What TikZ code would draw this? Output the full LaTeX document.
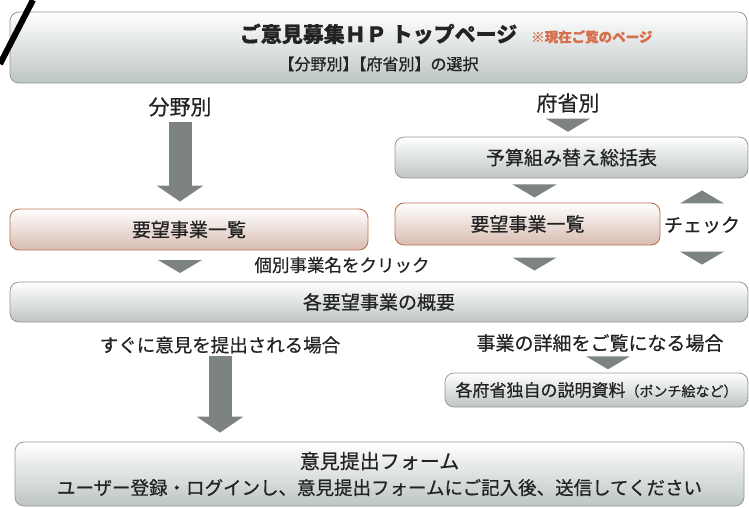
\documentclass[tikz,border=0pt]{standalone}
\usepackage{fontspec}
\setmainfont{Noto Sans CJK JP}[FakeBold=0.6]
\usetikzlibrary{positioning,shapes.geometric,arrows.meta}
\definecolor{arrowgray}{RGB}{125,130,130}
\definecolor{boxline}{RGB}{150,152,152}
\definecolor{boxbot}{RGB}{190,197,197}
\definecolor{listline}{RGB}{185,115,85}
\definecolor{listbot}{RGB}{215,188,176}
\definecolor{notered}{RGB}{215,110,75}
\definecolor{txt}{RGB}{35,35,35}

\begin{document}
\begin{tikzpicture}
  [x=1pt,y=-1pt,
   every node/.style={text=txt,inner sep=0pt},
   page/.style={draw=boxline,line width=.8pt,rounded corners=9pt,top color=white,middle color=white!80!boxbot,bottom color=boxbot},
   list/.style={draw=listline,line width=.9pt,rounded corners=9pt,top color=white,middle color=white!75!listbot,bottom color=listbot},
   tri/.style={isosceles triangle,isosceles triangle stretches,shape border rotate=-90,fill=arrowgray,minimum width=44pt,minimum height=13pt},
   uptri/.style={tri,shape border rotate=90},
   bigarrow/.style={arrowgray,line width=23pt,-{Triangle[width=46pt,length=16pt]}},
   big/.style={font=\fontsize{21}{21}\selectfont},
   mid/.style={font=\fontsize{19}{19}\selectfont}]
  \useasboundingbox (0,0) rectangle (749,507);

  \node[page,minimum width=737pt,minimum height=71pt,align=center,font=\fontsize{16}{28}\selectfont] (top) at (378.5,47.5)
    {{\bfseries\fontsize{21}{28}\selectfont ご意見募集ＨＰ\ トップページ\rlap{\hspace{14pt}\fontsize{13.5}{14}\selectfont\color{notered}※現在ご覧のページ}}\\
     【分野別】\hspace{-.5em}【府省別】の選択};
  \draw[line width=6pt] (0,64) -- (33,0);
  \node[big] (field) at (180,107) {分野別};
  \node[big] (ministry) at (568,103) {府省別};
  \node[page,mid,minimum width=353pt,minimum height=41pt] (budget) at (571.5,157.5) {予算組み替え総括表};
  \node[list,mid,minimum width=358pt,minimum height=41pt] (leftlist) at (189,229.5) {要望事業一覧};
  \node[list,mid,minimum width=265pt,minimum height=42pt] (rightlist) at (527.5,224) {要望事業一覧};
  \node[mid] (check) at (702,225) {チェック};
  \node[font=\fontsize{17.5}{17.5}\selectfont] (click) at (342,265) {個別事業名をクリック};
  \node[page,mid,minimum width=738pt,minimum height=40pt] (overview) at (379,302) {各要望事業の概要};
  \node[font=\fontsize{18.5}{18.5}\selectfont] (quick) at (220,345) {すぐに意見を提出される場合};
  \node[mid] (detail) at (600,343) {事業の詳細をご覧になる場合};
  \node[page,minimum width=303pt,minimum height=34pt,font=\fontsize{17}{17}\selectfont] (doc) at (596.5,390)
    {各府省独自の説明資料{\fontsize{14}{14}\selectfont（ポンチ絵など）}};
  \node[page,minimum width=729pt,minimum height=64pt,align=center,font=\fontsize{18.5}{26}\selectfont] (form) at (379.5,474)
    {{\fontsize{20}{26}\selectfont 意見提出フォーム}\\
     ユーザー登録・ログインし、意見提出フォームにご記入後、送信してください};

  \draw[bigarrow,shorten <=5pt,shorten >=7pt] (field.south) -- (field |- leftlist.north);
  \draw[bigarrow,shorten <=2pt,shorten >=9pt] (quick.south) -- (quick |- form.north);

  \foreach \from/\to/\dx in {ministry.south/ministry |- budget.north/0,
                             rightlist.north |- budget.south/rightlist.north/7,
                             field |- leftlist.south/field |- overview.north/0,
                             rightlist.south/rightlist.south |- overview.north/7,
                             check.south/check |- overview.north/0,
                             detail.south/detail |- doc.north/8}
     \path (\from) -- (\to) node[tri,midway,xshift=\dx pt] {};
  \path (check.north) -- (check |- budget.south) node[uptri,midway] {};
\end{tikzpicture}
\end{document}
